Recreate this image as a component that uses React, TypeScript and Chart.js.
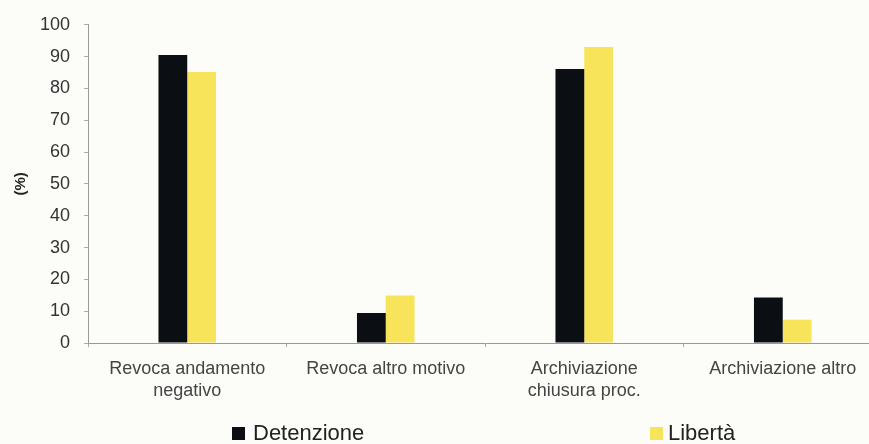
import React, { useEffect, useRef } from "react";
import { Chart, registerables } from "chart.js";

Chart.register(...registerables);

const categories: string[][] = [
  ["Revoca andamento", "negativo"],
  ["Revoca altro motivo"],
  ["Archiviazione", "chiusura proc."],
  ["Archiviazione altro"],
];
const detenzione = [90.5, 9.4, 86.1, 14.3];
const liberta = [85.2, 14.9, 93.0, 7.3];
const seriesNames = ["Detenzione", "Libertà"];
const yTitle = "(%)";

const BLACK = "#0b0f14";
const YELLOW = "#f8e45a";
const FONT = "'Liberation Sans', Arial, sans-serif";

export default function App() {
  const ref = useRef<HTMLCanvasElement | null>(null);
  useEffect(() => {
    if (!ref.current) return;
    const chart = new Chart(ref.current, {
      type: "bar",
      data: {
        labels: categories,
        datasets: [
          { label: seriesNames[0], data: detenzione, backgroundColor: BLACK, borderWidth: 0 },
          { label: seriesNames[1], data: liberta, backgroundColor: YELLOW, borderWidth: 0 },
        ],
      },
      options: {
        responsive: false,
        animation: false,
        layout: { padding: { top: 20, bottom: 41, left: 0, right: 0 } },
        plugins: { legend: { display: false }, tooltip: { enabled: false } },
        datasets: { bar: { categoryPercentage: 0.29, barPercentage: 1 } },
        scales: {
          x: {
            grid: { display: true, drawOnChartArea: false, offset: true, tickLength: 4, color: "#aaaaaa" },
            border: { color: "#999999", width: 1 },
            ticks: {
              color: "#444444",
              font: { family: FONT, size: 18, lineHeight: 1.22 },
              padding: 11,
              maxRotation: 0,
              autoSkip: false,
            },
            afterFit: (s: any) => { s.height = 60; },
          },
          y: {
            min: 0,
            max: 100,
            grid: { display: true, drawOnChartArea: false, tickLength: 4, color: "#aaaaaa" },
            border: { color: "#999999", width: 1 },
            ticks: {
              stepSize: 10,
              color: "#333333",
              font: { family: FONT, size: 18 },
              padding: 14,
            },
            title: {
              display: true,
              text: yTitle,
              color: "#222222",
              font: { family: FONT, size: 15, weight: "bold" },
              padding: { top: 12, bottom: 0 },
            },
            afterFit: (s: any) => { s.width = 88; },
          },
        },
      },
    });
    return () => chart.destroy();
  }, []);

  const legendText: React.CSSProperties = {
    position: "absolute",
    top: 421,
    fontFamily: FONT,
    fontSize: 22,
    lineHeight: "24px",
    color: "#222222",
  };
  const box: React.CSSProperties = { position: "absolute", top: 427, width: 13, height: 13 };

  return (
    <div
      style={{
        position: "absolute",
        left: 0,
        top: 0,
        width: 869,
        height: 444,
        overflow: "hidden",
        background: "#fcfdf9",
      }}
    >
      <canvas ref={ref} width={882} height={444} style={{ display: "block" }} />
      <div style={{ ...box, left: 232, background: BLACK }} />
      <div style={{ ...legendText, left: 253 }}>{seriesNames[0]}</div>
      <div style={{ ...box, left: 650, background: YELLOW }} />
      <div style={{ ...legendText, left: 668 }}>{seriesNames[1]}</div>
    </div>
  );
}
